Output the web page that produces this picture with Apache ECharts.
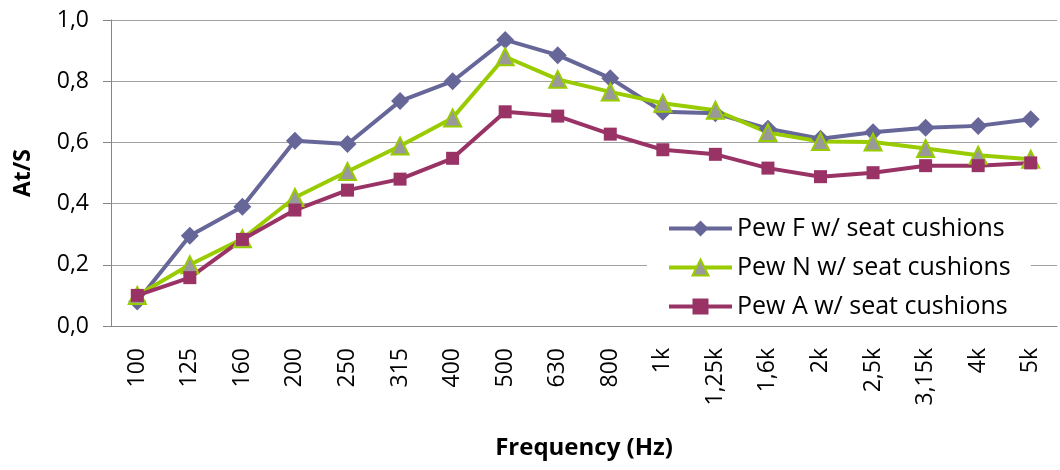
<!DOCTYPE html>
<html>
<head>
<meta charset="utf-8">
<script src="https://cdn.jsdelivr.net/npm/echarts@6/dist/echarts.min.js"></script>
<style>html,body{margin:0;padding:0;background:#fff}#c{width:1060px;height:470px}</style>
</head>
<body>
<div id="c"></div>
<script>
const categories = ['100','125','160','200','250','315','400','500','630','800','1k','1,25k','1,6k','2k','2,5k','3,15k','4k','5k'];
const pewF = [0.08,0.295,0.39,0.605,0.595,0.735,0.80,0.935,0.885,0.81,0.70,0.695,0.645,0.612,0.633,0.648,0.654,0.676];
const pewN = [0.10,0.20,0.285,0.42,0.505,0.588,0.68,0.88,0.806,0.765,0.728,0.705,0.632,0.603,0.601,0.58,0.558,0.545];
const pewA = [0.10,0.158,0.283,0.379,0.444,0.48,0.548,0.70,0.686,0.627,0.576,0.561,0.516,0.488,0.501,0.524,0.524,0.533];
const seriesNames = ['Pew F w/ seat cushions','Pew N w/ seat cushions','Pew A w/ seat cushions'];
const yTicks = [0,0.2,0.4,0.6,0.8,1.0];

const chart = echarts.init(document.getElementById('c'), null, {renderer:'canvas'});
const font = 'Open Sans';
chart.setOption({
  animation: false,
  backgroundColor: '#fff',
  grid: {left: 111, right: 3, top: 20, bottom: 144, containLabel: false},
  legend: {
    orient: 'vertical',
    left: 647, top: 208,
    backgroundColor: '#fff',
    padding: [8, 20, 6, 20],
    itemWidth: 63, itemHeight: 20, itemGap: 14,
    lineStyle: {width: 4},
    textStyle: {fontFamily: font, fontSize: 25, color: '#000'},
    data: seriesNames.map((n,i)=>({name:n}))
  },
  xAxis: {
    type: 'category',
    data: categories,
    boundaryGap: true,
    name: 'Frequency (Hz)',
    nameLocation: 'middle',
    nameGap: 110,
    nameTextStyle: {fontFamily: font, fontSize: 24, fontWeight: 'bold', color: '#000'},
    axisLine: {lineStyle: {color: '#868686', width: 1}},
    axisTick: {show: false},
    axisLabel: {rotate: 90, margin: 22, fontFamily: font, fontSize: 23, color: '#000', interval: 0}
  },
  yAxis: {
    type: 'value',
    min: yTicks[0], max: yTicks[yTicks.length-1], interval: 0.2,
    name: 'At/S',
    nameLocation: 'middle',
    nameGap: 76,
    nameTextStyle: {fontFamily: font, fontSize: 23, fontWeight: 'bold', color: '#000'},
    axisLine: {show: true, lineStyle: {color: '#868686', width: 1}},
    axisTick: {show: true, inside: false, length: 8, lineStyle: {color: '#868686'}},
    axisLabel: {margin: 22, fontFamily: font, fontSize: 23, color: '#000',
      formatter: v => v.toFixed(1).replace('.', ',')},
    splitLine: {lineStyle: {color: '#a0a0a0', width: 1}}
  },
  series: [
    {name: seriesNames[0], type: 'line', data: pewF, symbol: 'diamond', symbolSize: 18,
     lineStyle: {color: '#666699', width: 4}, itemStyle: {color: '#666699'}},
    {name: seriesNames[1], type: 'line', data: pewN, symbol: 'triangle', symbolSize: 17,
     lineStyle: {color: '#99cc00', width: 4}, itemStyle: {color: '#999999', borderColor: '#99cc00', borderWidth: 2}},
    {name: seriesNames[2], type: 'line', data: pewA, symbol: 'rect', symbolSize: 13,
     lineStyle: {color: '#993366', width: 4}, itemStyle: {color: '#993366'}}
  ]
});
</script>
</body>
</html>
